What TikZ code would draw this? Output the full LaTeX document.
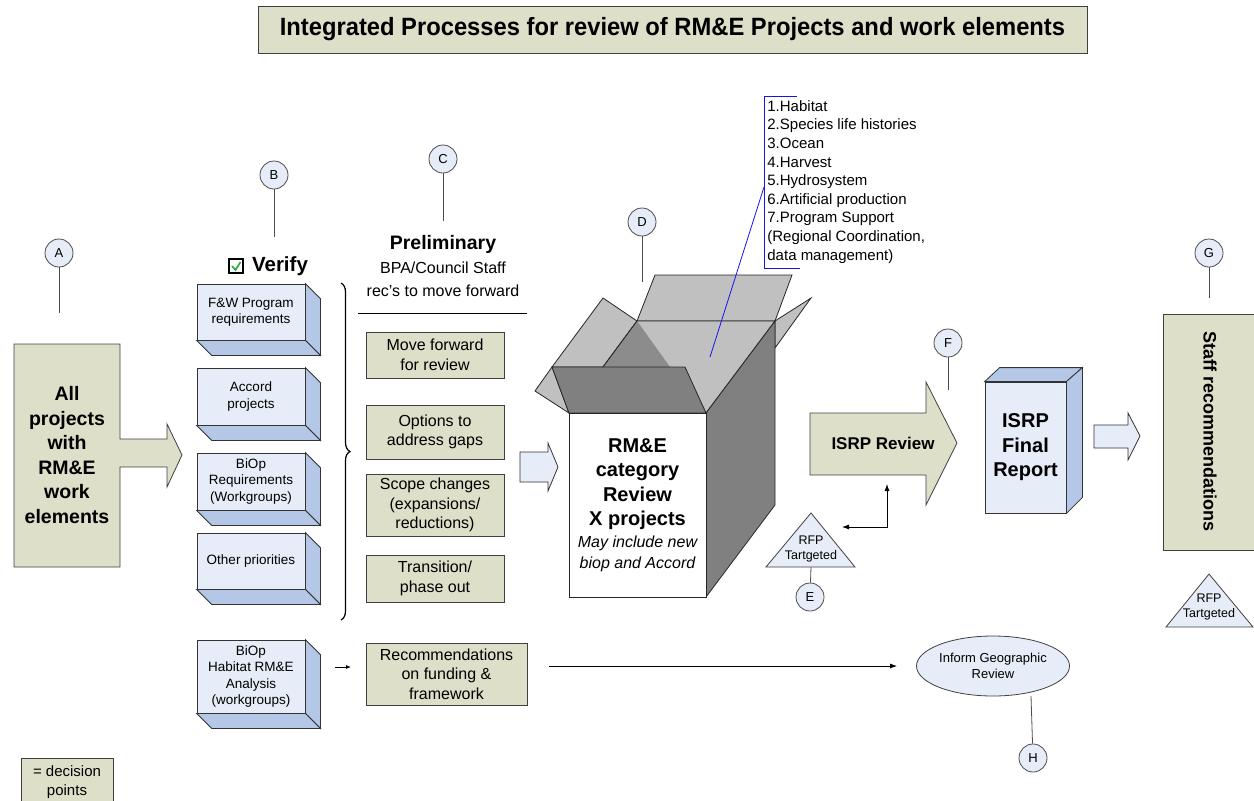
\documentclass[tikz,border=0pt]{standalone}
\usepackage{fontspec}
\setmainfont{Liberation Sans}
\usepackage{graphicx}
\usetikzlibrary{shapes.geometric,arrows.meta,decorations.pathreplacing}

\definecolor{beige}{RGB}{221,223,200}
\definecolor{paleblue}{RGB}{230,236,248}
\definecolor{sideblue}{RGB}{180,199,231}
\definecolor{boxdark}{RGB}{128,128,128}
\definecolor{boxlight}{RGB}{192,192,192}
\definecolor{boxmid}{RGB}{140,140,140}
\definecolor{checkgreen}{RGB}{40,170,60}
\definecolor{linkblue}{RGB}{20,20,240}

\tikzset{
  greenbox/.style={draw=black!75, fill=beige, align=center, inner sep=2pt,
    font=\fontsize{16}{19.5}\selectfont},
  bluebox/.style={draw=black!80, fill=paleblue, align=center, inner sep=2pt,
    minimum width=108pt, font=\fontsize{13.5}{16.5}\selectfont},
  sideface/.style={draw=black!80, fill=sideblue},
  marker/.style={circle, draw=black!70, fill=paleblue, minimum size=28pt,
    inner sep=0pt, font=\fontsize{13}{13}\selectfont},
  markline/.style={draw=black!70},
  flow/.style={-{Latex[length=7pt,width=5pt]}},
  hollow/.style={draw=black!80, fill=paleblue},
  carton/.style={draw=black!85},
  smalltxt/.style={align=center, inner sep=0pt, font=\fontsize{12.5}{15}\selectfont},
}

\begin{document}
\begin{tikzpicture}[x=1pt, y=-1pt, line width=0.8pt]
    \useasboundingbox (0,0) rectangle (1254,801);

    % Title
    \node[draw=black!75, fill=beige, minimum width=829pt, minimum height=47pt,
      font=\bfseries\fontsize{25}{25}\selectfont] (title) at (672.5,29.5)
      {\scalebox{0.95}[1]{Integrated Processes for review of RM\&E Projects and work elements}};

    % Decision marker circles
    \node[marker] (mA) at (59,253) {A};
    \node[marker] (mB) at (274,175) {B};
    \node[marker] (mC) at (443,159) {C};
    \node[marker] (mD) at (642,222) {D};
    \node[marker] (mE) at (810,597) {E};
    \node[marker] (mF) at (948,343) {F};
    \node[marker] (mG) at (1209,253) {G};
    \node[marker] (mH) at (1033,758) {H};
    \coordinate (tA) at (59,313);
    \coordinate (tB) at (274,237);
    \coordinate (tC) at (443,221);
    \coordinate (tD) at (642,282);
    \coordinate (tE) at (811,567);
    \coordinate (tF) at (948,390);
    \coordinate (tG) at (1209,298);
    \coordinate (tH) at (1031,696);
    \draw[markline] (mA) -- (tA);
    \draw[markline] (mB) -- (tB);
    \draw[markline] (mC) -- (tC);
    \draw[markline] (mD) -- (tD);
    \draw[markline] (mE) -- (tE);
    \draw[markline] (mF) -- (tF);
    \draw[markline] (mG) -- (tG);
    \draw[markline] (mH) -- (tH);

    % -- A: all projects (box with arrow)
    \filldraw[draw=black!75, fill=beige] (14,344) -- (120,344) -- (120,439) -- (167,439)
      -- (167,424) -- (182,455) -- (167,487) -- (167,467) -- (120,467) -- (120,567)
      -- (14,567) -- cycle;
    \node[align=center, font=\bfseries\fontsize{19.5}{24.5}\selectfont] (allproj) at (67,455)
      {All\\projects\\with\\RM\&E\\work\\elements};

    % -- B: verify column
    \draw[line width=1.4pt] (229,259) rectangle (243,273);
    \draw[checkgreen, line width=1.6pt] (232,266) -- (235.5,270) -- (240.5,262);
    \node[font=\bfseries\fontsize{20.5}{20.5}\selectfont] (verify) at (280,266) {Verify};

    \node[bluebox, minimum height=56pt] (fw) at (251,312) {F\&W Program\\requirements};
    \node[bluebox, minimum height=57pt] (accord) at (251,396.5) {Accord\\projects};
    \node[bluebox, minimum height=57pt] (biop) at (251,481.5) {BiOp\\Requirements\\(Workgroups)};
    \node[bluebox, minimum height=56pt] (other) at (251,561) {Other priorities};
    \node[bluebox, minimum height=73pt] (habitat) at (251,676.5) {BiOp\\Habitat RM\&E\\Analysis\\(workgroups)};
    \foreach \b in {fw,accord,biop,other,habitat}{
      \filldraw[sideface] (\b.north east) -- ++(15,15) -- ([shift={(15,15)}]\b.south east)
        -- (\b.south east) -- cycle;
      \filldraw[sideface] (\b.south west) -- (\b.south east) -- ([shift={(15,15)}]\b.south east)
        -- ([shift={(15,15)}]\b.south west) -- cycle;
    }

    % brace
    \coordinate (braceTop) at (341,283);
    \coordinate (braceBot) at (341,620);
    \draw[decorate, decoration={brace, amplitude=9pt}, line width=1.2pt] (braceTop) -- (braceBot);

    % -- C: preliminary
    \node[font=\bfseries\fontsize{19.5}{19.5}\selectfont] (prelim) at (443,244) {Preliminary};
    \node[align=center, font=\fontsize{16}{23}\selectfont] (prelimsub) at (443,279)
      {BPA/Council Staff\\rec's to move forward};
    \draw (358,313) -- (527,313);

    \node[greenbox, minimum width=138pt, minimum height=46pt] (forward) at (435,355) {Move forward\\for review};
    \node[greenbox, minimum width=138pt, minimum height=54pt] (options) at (435,432) {Options to\\address gaps};
    \node[greenbox, minimum width=138pt, minimum height=62pt] (scope) at (435,505) {Scope changes\\(expansions/\\reductions)};
    \node[greenbox, minimum width=138pt, minimum height=47pt] (trans) at (435,578.5) {Transition/\\phase out};
    \node[greenbox, minimum width=161pt, minimum height=62pt] (recs) at (446.5,674) {Recommendations\\on funding \&\\framework};

    \coordinate (habOut) at (335,667);
    \coordinate (recIn) at (351,667);
    \draw[-{Latex[length=5pt,width=4pt]}] (habOut) -- (recIn);

    % hollow arrow into the box
    \filldraw[hollow] (520,452) -- (548,452) -- (548,443) -- (558,467) -- (548,491)
      -- (548,482) -- (520,482) -- cycle;

    % -- D: open carton
    \filldraw[carton, fill=boxlight] (552,367) -- (535,391) -- (569,413) -- cycle;
    \filldraw[carton, fill=boxlight] (603,298) -- (637,321) -- (603,367) -- (552,367) -- cycle;
    \filldraw[carton, fill=boxlight] (637,321) -- (655,275) -- (792,275) -- (775,321) -- cycle;
    \filldraw[carton, fill=boxlight] (775,321) -- (811,298) -- (775,348) -- cycle;
    \filldraw[carton, fill=boxlight] (637,321) -- (775,321) -- (706,413) -- (569,413) -- cycle;
    \fill[boxmid] (637,321) -- (603,367) -- (670,367) -- cycle;
    \draw[carton] (637,321) -- (603,367);
    \filldraw[carton, fill=boxdark] (552,367) -- (685,367) -- (706,413) -- (569,413) -- cycle;
    \filldraw[carton, fill=boxdark] (706,413) -- (775,321) -- (775,505) -- (706,597) -- cycle;
    \filldraw[carton, fill=white] (569,413) rectangle (706,597);
    \node[align=center, font=\bfseries\fontsize{20}{24.5}\selectfont] (boxtxt) at (637.5,484)
      {RM\&E\\category\\Review\\X projects};
    \node[align=center, font=\itshape\fontsize{16}{21}\selectfont] (boxnote) at (637.5,554)
      {May include new\\biop and Accord};

    % category list
    \node[anchor=north west, align=left, inner sep=0pt, font=\fontsize{15}{18.6}\selectfont]
      (cats) at (767,100) {1.Habitat\\2.Species life histories\\3.Ocean\\4.Harvest\\5.Hydrosystem\\
      6.Artificial production\\7.Program Support\\(Regional Coordination,\\data management)};
    \draw[linkblue] (797,96) -- (764,96) -- (764,268) -- (800,268);
    \coordinate (boxIn) at (710,357);
    \coordinate (catLink) at (764,187);
    \draw[linkblue] (boxIn) -- (catLink);

    % -- E/F: ISRP review
    \filldraw[draw=black!75, fill=beige] (810,413) -- (926,413) -- (926,382) -- (957,443)
      -- (926,505) -- (926,475) -- (810,475) -- cycle;
    \node[font=\bfseries\fontsize{17}{17}\selectfont] (isrprev) at (883,443) {ISRP Review};

    \filldraw[draw=black!75, fill=paleblue] (766,567) -- (811,513) -- (855,567) -- cycle;
    \node[smalltxt] (rfpE) at (811,549) {RFP\\Tartgeted};
    \coordinate (rfpSide) at (842,527);
    \coordinate (isrpLow) at (887,484);
    \draw[{Latex[length=7pt,width=5pt]}-{Latex[length=7pt,width=5pt]}] (rfpSide) -| (isrpLow);

    % ISRP final report
    \node[draw=black!80, fill=paleblue, minimum width=81pt, minimum height=131pt, align=center,
      font=\bfseries\fontsize{20}{24.5}\selectfont] (final) at (1025.5,447.5) {ISRP\\Final\\Report};
    \filldraw[sideface] (final.north west) -- ++(15,-14) -- ([shift={(16,-14)}]final.north east)
      -- (final.north east) -- cycle;
    \filldraw[sideface] (final.north east) -- ++(16,-14) -- ([shift={(16,-16)}]final.south east)
      -- (final.south east) -- cycle;

    \filldraw[hollow] (1094,425) -- (1128,425) -- (1128,413) -- (1140,436) -- (1128,460)
      -- (1128,448) -- (1094,448) -- cycle;

    % -- G: staff recommendations
    \fill[beige] (1163,314) rectangle (1254,550);
    \draw[black!75] (1254,314) -- (1163,314) -- (1163,550) -- (1254,550);
    \node[rotate=-90, font=\bfseries\fontsize{18}{18}\selectfont] (staff) at (1210,432)
      {Staff recommendations};
    \filldraw[draw=black!75, fill=paleblue] (1166,627) -- (1209,574) -- (1253,627) -- cycle;
    \node[smalltxt] (rfpG) at (1209,607) {RFP\\Tartgeted};

    % -- H: geographic review
    \node[ellipse, draw=black!75, fill=paleblue, minimum width=153pt, minimum height=60pt,
      align=center, inner sep=0pt, font=\fontsize{13}{16}\selectfont] (geo) at (993,666)
      {Inform Geographic\\Review};
    \coordinate (recOut) at (549,666);
    \draw[flow] (recOut) -- ([xshift=-19pt]geo.west);

    % legend
    \node[draw=black!75, fill=beige, minimum width=92pt, minimum height=48pt, align=center,
      font=\fontsize{15}{19}\selectfont] (legend) at (67,782) {= decision\\points};
\end{tikzpicture}
\end{document}
